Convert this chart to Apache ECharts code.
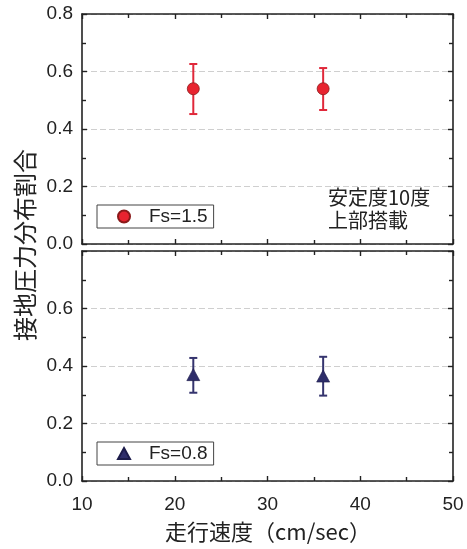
<!DOCTYPE html>
<html>
<head>
<meta charset="utf-8">
<script src="https://cdn.jsdelivr.net/npm/echarts@6/dist/echarts.min.js"></script>
<style>html,body{margin:0;padding:0;background:#fff}#c{width:467px;height:549px}</style>
</head>
<body>
<div id="c"></div>
<script>
const xSpeed = [22, 36];
const fs15Mean = [0.54, 0.54];
const fs15Upper = [0.626, 0.612];
const fs15Lower = [0.452, 0.466];
const fs08Mean = [0.37, 0.365];
const fs08Upper = [0.428, 0.432];
const fs08Lower = [0.307, 0.297];
const seriesNames = ['Fs=1.5', 'Fs=0.8'];
const xTitle = '走行速度（cm/sec）';
const yTitle = '接地圧力分布割合';
const noteText = '安定度10度\n上部搭載';

const FONT = '"Liberation Sans", "Noto Sans CJK JP", sans-serif';
const CJK = '"Noto Sans CJK JP", "Liberation Sans", sans-serif';
const AX = '#222';

function xAx(grid, pos, labels) {
  return {
    type: 'value', gridIndex: grid, position: pos, min: 10, max: 50, interval: 10,
    axisLine: {show: true, onZero: false, lineStyle: {color: AX, width: 1.6}},
    axisTick: {show: true, inside: true, length: 5, lineStyle: {color: AX, width: 1.4}},
    minorTick: {show: true, splitNumber: 2, length: 4, lineStyle: {color: AX, width: 1.4}},
    axisLabel: {show: labels, color: '#222', fontSize: 19, fontFamily: FONT, margin: 14},
    splitLine: {show: false}
  };
}
function yAx(grid, pos, labels, hideTop) {
  return {
    type: 'value', gridIndex: grid, position: pos, min: 0, max: 0.8, interval: 0.2,
    axisLine: {show: true, onZero: false, lineStyle: {color: AX, width: 1.6}},
    axisTick: {show: true, inside: true, length: 5, lineStyle: {color: AX, width: 1.4}},
    minorTick: {show: true, splitNumber: 2, length: 4, lineStyle: {color: AX, width: 1.4}},
    axisLabel: {show: labels, color: '#222', fontSize: 19, fontFamily: FONT, margin: 9,
      formatter: v => (hideTop && v > 0.79) ? '' : v.toFixed(1)},
    splitLine: {show: labels, lineStyle: {color: '#cfcfcf', type: [6, 3], width: 1}}
  };
}
function errBars(name, xi, yi, lo, hi, color, cap) {
  return {
    type: 'custom', name: name, xAxisIndex: xi, yAxisIndex: yi, z: 2,
    data: xSpeed.map((x, i) => [x, lo[i], hi[i]]),
    renderItem: function (params, api) {
      const top = api.coord([api.value(0), api.value(2)]);
      const bot = api.coord([api.value(0), api.value(1)]);
      const st = {stroke: color, lineWidth: 2};
      return {type: 'group', children: [
        {type: 'line', shape: {x1: top[0], y1: top[1], x2: bot[0], y2: bot[1]}, style: st},
        {type: 'line', shape: {x1: top[0] - cap, y1: top[1], x2: top[0] + cap, y2: top[1]}, style: st},
        {type: 'line', shape: {x1: bot[0] - cap, y1: bot[1], x2: bot[0] + cap, y2: bot[1]}, style: st}
      ]};
    }
  };
}

const chart = echarts.init(document.getElementById('c'));
chart.setOption({
  animation: false,
  backgroundColor: '#fff',
  grid: [
    {left: 82, right: 14, top: 14, height: 230},
    {left: 82, right: 14, top: 251, height: 230}
  ],
  xAxis: [xAx(0, 'bottom', false), xAx(0, 'top', false), xAx(1, 'bottom', true), xAx(1, 'top', false)],
  yAxis: [yAx(0, 'left', true, false), yAx(0, 'right', false, false), yAx(1, 'left', true, true), yAx(1, 'right', false, false)],
  legend: [
    {data: [{name: seriesNames[0], icon: 'circle'}], left: 97, top: 205, orient: 'horizontal',
     borderColor: '#444', borderWidth: 1, borderRadius: 0, padding: [2, 6, 2, 20],
     itemWidth: 12, itemHeight: 12, selectedMode: false,
     textStyle: {fontSize: 19, fontFamily: FONT, color: '#222', padding: [0, 0, 0, 14]}},
    {data: [{name: seriesNames[1], icon: 'triangle'}], left: 97, top: 442, orient: 'horizontal',
     borderColor: '#444', borderWidth: 1, borderRadius: 0, padding: [2, 6, 2, 20],
     itemWidth: 12, itemHeight: 11, selectedMode: false,
     textStyle: {fontSize: 19, fontFamily: FONT, color: '#222', padding: [0, 0, 0, 14]}}
  ],
  title: {text: noteText, left: 328, top: 186, padding: 0,
    textStyle: {fontSize: 20, fontWeight: 'normal', fontFamily: CJK, color: '#222', lineHeight: 23}},
  graphic: [
    {type: 'text', x: 25, y: 245, rotation: Math.PI / 2,
     style: {text: yTitle, fontSize: 24, fontFamily: CJK, fill: '#222', textAlign: 'center', textVerticalAlign: 'middle'}},
    {type: 'text', x: 268, y: 532,
     style: {text: xTitle, fontSize: 22, fontFamily: CJK, fill: '#222', textAlign: 'center', textVerticalAlign: 'middle'}}
  ],
  series: [
    errBars('err15', 0, 0, fs15Lower, fs15Upper, '#e0283a', 4),
    {type: 'scatter', name: seriesNames[0], xAxisIndex: 0, yAxisIndex: 0, z: 3,
     symbol: 'circle', symbolSize: 12,
     itemStyle: {color: '#e8232f', borderColor: '#8a1a1a', borderWidth: 0.8, opacity: 1},
     data: xSpeed.map((x, i) => [x, fs15Mean[i]])},
    errBars('err08', 2, 2, fs08Lower, fs08Upper, '#35346e', 4),
    {type: 'scatter', name: seriesNames[1], xAxisIndex: 2, yAxisIndex: 2, z: 3,
     symbol: 'triangle', symbolSize: [13, 12],
     itemStyle: {color: '#2e2d6a', borderColor: '#1c1b4a', borderWidth: 0.6, opacity: 1},
     data: xSpeed.map((x, i) => [x, fs08Mean[i]])}
  ]
});
</script>
</body>
</html>
